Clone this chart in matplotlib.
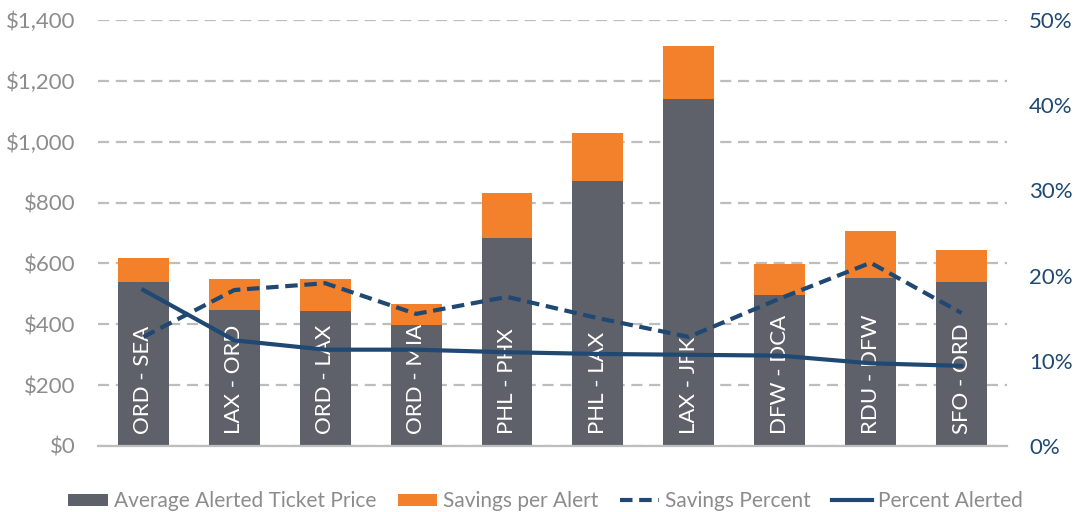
import matplotlib
matplotlib.use("Agg")
import matplotlib.pyplot as plt
from matplotlib.ticker import FuncFormatter, MultipleLocator
import numpy as np

# route data
routes = ["ORD - SEA", "LAX - ORD", "ORD - LAX", "ORD - MIA", "PHL - PHX",
          "PHL - LAX", "LAX - JFK", "DFW - DCA", "RDU - DFW", "SFO - ORD"]
avg_price = [539, 447, 444, 398, 685, 871, 1140, 496, 552, 539]
savings = [79, 102, 105, 69, 146, 158, 174, 101, 154, 105]
savings_pct = [12.8, 18.3, 19.1, 15.5, 17.5, 15.0, 12.8, 17.3, 21.5, 15.6]
alerted_pct = [18.3, 12.4, 11.3, 11.3, 11.0, 10.8, 10.7, 10.6, 9.7, 9.4]

GRAY = "#5e6169"
ORANGE = "#f3802a"
NAVY = "#1f4872"
TICK_GRAY = "#8c8c8c"

plt.rcParams['font.family'] = ['Lato', 'DejaVu Sans']

fig = plt.figure(figsize=(10.74, 5.12), dpi=100)
ax = fig.add_axes([0.0912, 0.129, 0.8464, 0.832])
ax2 = ax.twinx()

x = np.arange(len(routes))
w = 0.56
ax.bar(x, avg_price, w, color=GRAY, label="Average Alerted Ticket Price", zorder=2)
ax.bar(x, savings, w, bottom=avg_price, color=ORANGE, label="Savings per Alert", zorder=2)

for xi, name in zip(x, routes):
    ax.text(xi, 40, name, rotation=90, ha="center", va="bottom",
            color="white", fontsize=16, zorder=3)

ax.set_ylim(0, 1400)
ax.set_xlim(-0.5, len(routes) - 0.5)
ax.yaxis.set_major_locator(MultipleLocator(200))
ax.yaxis.set_major_formatter(FuncFormatter(lambda v, p: f"${v:,.0f}"))
ax.grid(axis="y", color="#bdbdbd", linestyle=(0, (5, 3)), linewidth=1.6, zorder=0)
ax.set_axisbelow(True)
ax.set_xticks([])
ax.tick_params(axis="y", length=0, labelsize=16, labelcolor=TICK_GRAY, pad=16)
for s in ["top", "right", "left"]:
    ax.spines[s].set_visible(False)
ax.spines["bottom"].set_color("#bdbdbd")
ax.spines["bottom"].set_linewidth(1.6)

ax2.plot(x, savings_pct, color=NAVY, linestyle=(0, (3, 1.6)), linewidth=3,
         label="Savings Percent", zorder=4)
ax2.plot(x, alerted_pct, color=NAVY, linewidth=3, label="Percent Alerted", zorder=4)
ax2.set_ylim(0, 50)
ax2.yaxis.set_major_locator(MultipleLocator(10))
ax2.yaxis.set_major_formatter(FuncFormatter(lambda v, p: f"{v:.0f}%"))
ax2.tick_params(axis="y", length=0, labelsize=16, labelcolor=NAVY, pad=16)
for s in ["top", "right", "left", "bottom"]:
    ax2.spines[s].set_visible(False)

h1, l1 = ax.get_legend_handles_labels()
h2, l2 = ax2.get_legend_handles_labels()
fig.legend(h1 + h2, l1 + l2, loc="lower center", bbox_to_anchor=(0.508, -0.035),
           ncol=4, frameon=False, fontsize=15, labelcolor=TICK_GRAY,
           handlelength=1.9, handleheight=0.55, handletextpad=0.3, columnspacing=1.0)

fig.savefig("out.png", dpi=100)
